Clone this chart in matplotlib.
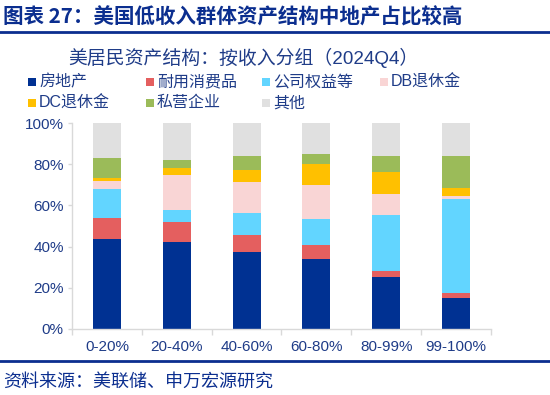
import matplotlib
matplotlib.use('Agg')
import matplotlib.pyplot as plt
from matplotlib.patches import Rectangle
from matplotlib.lines import Line2D
import numpy as np

# data (% share of assets)
groups = ['0-20%', '20-40%', '40-60%', '60-80%', '80-99%', '99-100%']
series_names = ['房地产', '耐用消费品', '公司权益等', 'DB退休金', 'DC退休金', '私营企业', '其他']
real_estate = [43.8, 42.3, 37.6, 34.0, 25.0, 15.2]
durables = [10.3, 9.4, 7.8, 6.8, 3.2, 2.3]
equity = [13.8, 6.0, 10.7, 12.4, 26.9, 45.7]
db_pension = [4.1, 16.9, 15.2, 16.8, 10.2, 1.6]
dc_pension = [1.4, 3.5, 6.0, 10.1, 11.0, 3.6]
private_biz = [9.6, 4.1, 6.8, 4.8, 7.5, 15.4]
other = [17.0, 17.8, 15.9, 15.1, 16.2, 16.2]
colors = ['#003192', '#E45F5F', '#62D5FF', '#F9D5D5', '#FFC000', '#9BBB59', '#E0E0E0']

blue_txt = '#1F3C88'
line_blue = '#0B2E8F'
cjk = ['Noto Sans CJK SC', 'DejaVu Sans']
mixed = ['Liberation Sans', 'Noto Sans CJK SC']

fig = plt.figure(figsize=(5.5, 3.95), dpi=100)
ax = fig.add_axes([0.1309, 0.1671, 0.7618, 0.5215])

x = np.arange(len(groups))
bottom = np.zeros(len(groups))
for vals, c in zip([real_estate, durables, equity, db_pension, dc_pension, private_biz, other], colors):
    v = np.array(vals) / 100.0
    ax.bar(x, v, width=0.4, bottom=bottom, color=c, edgecolor='none')
    bottom += v

ax.set_xlim(-0.5, len(groups) - 0.5)
ax.set_ylim(0, 1)
ax.set_yticks(np.linspace(0, 1, 6))
ax.set_yticklabels(['0%', '20%', '40%', '60%', '80%', '100%'])
ax.set_xticks(x)
ax.set_xticklabels(groups)
ax.set_xticks(np.arange(-0.5, len(groups)), minor=True)
ax.tick_params(axis='x', which='major', length=0, pad=8)
ax.tick_params(axis='x', which='minor', length=4, color='#D9D9D9', width=1)
ax.tick_params(axis='y', length=3, color='#D9D9D9', width=1, pad=3)
for lab in ax.get_xticklabels() + ax.get_yticklabels():
    lab.set_family(mixed)
    lab.set_fontsize(11)
    lab.set_color(blue_txt)
for s in ['top', 'right']:
    ax.spines[s].set_visible(False)
for s in ['left', 'bottom']:
    ax.spines[s].set_color('#D9D9D9')
    ax.spines[s].set_linewidth(1)

# header
fig.text(0.005, 1 - 17 / 395, '图表 27：美国低收入群体资产结构中地产占比较高',
         family=cjk, fontsize=14.8, fontweight='bold', color=line_blue, va='center', ha='left')
fig.add_artist(Line2D([0, 1], [1 - 32 / 395, 1 - 32 / 395], color=line_blue, lw=2))
fig.text(68 / 550, 1 - 58 / 395, '美居民资产结构：按收入分组（2024Q4）',
         family=mixed, fontsize=13.6, color=blue_txt, va='center', ha='left')

# legend
col_x = [28, 146, 262, 380]
row_y = [82, 103]
for i, (name, c) in enumerate(zip(series_names, colors)):
    cx = col_x[i % 4]
    cy = row_y[i // 4]
    fig.add_artist(Rectangle((cx / 550, 1 - (cy + 4) / 395), 8 / 550, 8 / 395,
                             transform=fig.transFigure, color=c, lw=0))
    fig.text((cx + 11) / 550, 1 - cy / 395, name, family=mixed, fontsize=11.5,
             color=blue_txt, va='center', ha='left')

# footer
fig.add_artist(Line2D([0, 1], [1 - 361 / 395, 1 - 361 / 395], color=line_blue, lw=2))
fig.text(0.005, 1 - 382 / 395, '资料来源：美联储、申万宏源研究',
         family=cjk, fontsize=13, color=line_blue, va='center', ha='left')

fig.savefig('out.png', dpi=100)
